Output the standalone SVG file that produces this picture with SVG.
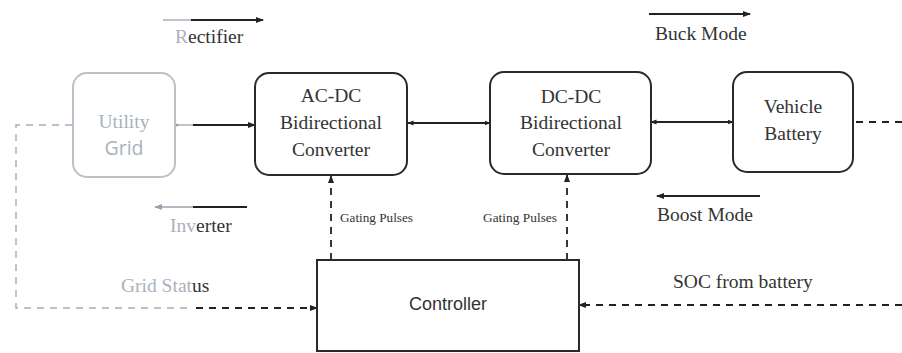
<svg xmlns="http://www.w3.org/2000/svg" width="902" height="353" viewBox="0 0 902 353">
<defs>
<marker id="ah" markerWidth="8" markerHeight="8" refX="7" refY="4" orient="auto" markerUnits="userSpaceOnUse"><path d="M0,1 L8,4 L0,7 Z" fill="#222"/></marker>
<marker id="ahs" markerWidth="6" markerHeight="6" refX="5.5" refY="3" orient="auto-start-reverse" markerUnits="userSpaceOnUse"><path d="M0,0.5 L6,3 L0,5.5 Z" fill="#222"/></marker>
<marker id="ahg" markerWidth="8" markerHeight="8" refX="7" refY="4" orient="auto" markerUnits="userSpaceOnUse"><path d="M0,1 L8,4 L0,7 Z" fill="#9aa3ad"/></marker>
</defs>
<style>
.box{fill:#fff;stroke:#2a2a2a;stroke-width:2}
.gbox{fill:#fff;stroke:#b9c1c9;stroke-width:2}
.t{font-size:19.5px;fill:#333;text-anchor:middle}
.tg{font-size:19.5px;fill:#a9b2bc;text-anchor:middle}
.lbl{font-size:19.5px;fill:#333}
.small{font-size:12.5px;fill:#333}
.ln{fill:none;stroke:#222;stroke-width:1.8}
.lng{fill:none;stroke:#9aa3ad;stroke-width:1.3}
.dash{fill:none;stroke:#222;stroke-width:1.8;stroke-dasharray:7 6}
.dashg{fill:none;stroke:#a3acb6;stroke-width:1.4;stroke-dasharray:7 6}
</style>

<g id="connectors">
<line class="lng" x1="177" y1="125" x2="193" y2="125"/>
<circle cx="177" cy="125" r="1.5" fill="#9aa3ad"/>
<line class="ln" x1="193" y1="125" x2="255" y2="125" marker-end="url(#ah)"/>
<line class="ln" x1="408" y1="123" x2="490" y2="123" stroke-width="1.6" marker-start="url(#ahs)" marker-end="url(#ahs)"/>
<line class="ln" x1="651" y1="122" x2="733" y2="122" stroke-width="1.6" marker-start="url(#ahs)" marker-end="url(#ahs)"/>
<line class="dash" x1="856" y1="122" x2="902" y2="122"/>
<path class="dashg" d="M72,125 H16 V308 H193"/>
<line class="dash" x1="196" y1="308" x2="317" y2="308" marker-end="url(#ah)"/>
<line class="dash" x1="902" y1="305" x2="579" y2="305" marker-end="url(#ah)"/>
<line class="dash" x1="331" y1="260" x2="331" y2="176" marker-end="url(#ah)"/>
<line class="dash" x1="567" y1="260" x2="567" y2="175" marker-end="url(#ah)"/>
<line class="lng" x1="163" y1="20" x2="191" y2="20"/>
<line class="ln" x1="191" y1="20" x2="263" y2="20" marker-end="url(#ah)"/>
<line class="ln" x1="649" y1="14" x2="750" y2="14" stroke-width="1.6" marker-end="url(#ah)"/>
<line class="ln" x1="760" y1="196" x2="657" y2="196" stroke-width="1.6" marker-end="url(#ah)"/>
<line class="ln" x1="247" y1="207" x2="193" y2="207"/>
<line class="lng" x1="193" y1="207" x2="155" y2="207" marker-end="url(#ahg)"/>
</g>

<g id="utility-grid" font-family="'Liberation Serif', 'Times New Roman', serif">
<rect class="gbox" x="73" y="73" width="102" height="104" rx="14"/>
<text class="tg" x="124" y="128">Utility</text>
<text class="tg" x="124" y="155" font-family="'Open Sans', 'Liberation Sans', sans-serif" font-size="17">Grid</text>
</g>

<g id="ac-dc" font-family="'Liberation Serif', 'Times New Roman', serif">
<rect class="box" x="255" y="73" width="152" height="102" rx="14"/>
<text class="t" x="331" y="102">AC-DC</text>
<text class="t" x="331" y="129">Bidirectional</text>
<text class="t" x="331" y="156">Converter</text>
</g>

<g id="dc-dc" font-family="'Liberation Serif', 'Times New Roman', serif">
<rect class="box" x="490" y="72" width="161" height="102" rx="14"/>
<text class="t" x="571" y="103">DC-DC</text>
<text class="t" x="571" y="129">Bidirectional</text>
<text class="t" x="571" y="156">Converter</text>
</g>

<g id="vehicle-battery" font-family="'Liberation Serif', 'Times New Roman', serif">
<rect class="box" x="733" y="72" width="120" height="100" rx="14"/>
<text class="t" x="793" y="113">Vehicle</text>
<text class="t" x="793" y="140">Battery</text>
</g>

<g id="controller">
<rect class="box" x="317" y="260" width="262" height="91"/>
<text x="448" y="310" font-family="'Liberation Sans', Arial, sans-serif" font-size="18" fill="#333" text-anchor="middle">Controller</text>
</g>

<g id="labels" font-family="'Liberation Serif', 'Times New Roman', serif">
<text class="lbl" x="175" y="43"><tspan fill="#a9b2bc">R</tspan>ectifier</text>
<text class="lbl" x="655" y="40">Buck Mode</text>
<text class="lbl" x="657" y="221">Boost Mode</text>
<text class="lbl" x="170" y="232"><tspan fill="#a9b2bc">Inv</tspan>erter</text>
<text class="lbl" x="121" y="292"><tspan fill="#a9b2bc">Grid Stat</tspan>us</text>
<text class="lbl" x="673" y="288">SOC from battery</text>
<text class="small" x="340" y="222" textLength="73" lengthAdjust="spacingAndGlyphs">Gating Pulses</text>
<text class="small" x="483" y="222" textLength="74" lengthAdjust="spacingAndGlyphs">Gating Pulses</text>
</g>
</svg>
